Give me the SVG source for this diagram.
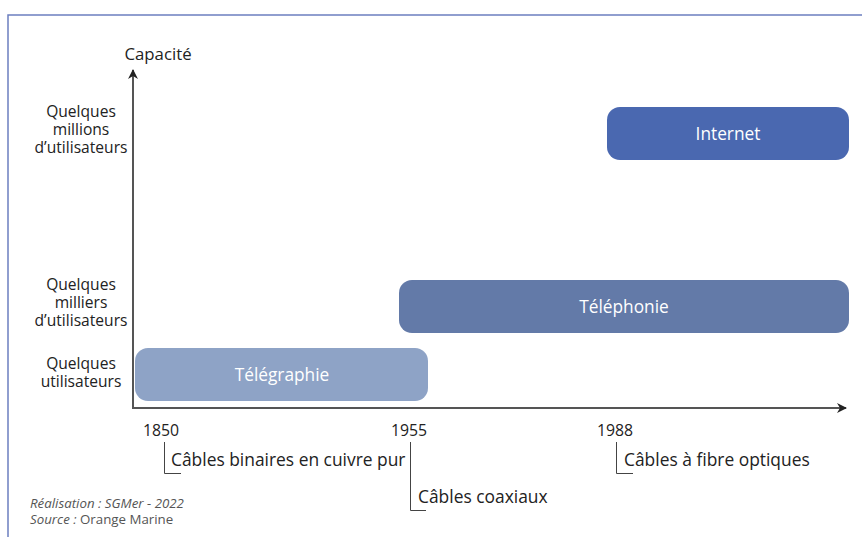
<svg xmlns="http://www.w3.org/2000/svg" width="863" height="537" viewBox="0 0 863 537">
<defs>
<style>
text{font-family:"Open Sans","Liberation Sans",sans-serif;fill:#222}
.lbl{font-size:15.6px;text-anchor:middle}
.yr{font-size:15.8px}
.cb{font-size:17.4px}
.box{font-size:17.3px;fill:#fff;text-anchor:middle}
.ft{font-size:13.3px;fill:#555}
.axis{stroke:#555;stroke-width:2;fill:none}
.br{stroke:#444;stroke-width:1;fill:none}
</style>
<marker id="ah" viewBox="0 0 10 10" refX="9" refY="5" markerWidth="10" markerHeight="10" markerUnits="userSpaceOnUse" orient="auto">
<path d="M0,0 L10,5 L0,10 L3,5 Z" fill="#222"/>
</marker>
</defs>
<rect width="863" height="537" fill="#fff"/>
<path d="M8,537 V15 H862" stroke="#6c7fc0" stroke-width="1.5" fill="none"/>
<g id="connectors">
<path class="axis" d="M133,409 V70" marker-end="url(#ah)"/>
<path class="axis" d="M132,408 H846" marker-end="url(#ah)"/>
<path class="br" d="M164.5,442 V473.5 H181"/>
<path class="br" d="M410.5,442 V510.5 H426"/>
<path class="br" d="M616.5,442 V473.5 H633"/>
</g>
<g id="axis-labels">
<text x="158" y="60" style="font-size:16.8px;text-anchor:middle">Capacité</text>
<text class="lbl" x="81" y="117">Quelques<tspan x="81" dy="18">millions</tspan><tspan x="81" dy="18">d’utilisateurs</tspan></text>
<text class="lbl" x="81" y="290">Quelques<tspan x="81" dy="18">milliers</tspan><tspan x="81" dy="18">d’utilisateurs</tspan></text>
<text class="lbl" x="81" y="369">Quelques<tspan x="81" dy="18">utilisateurs</tspan></text>
</g>
<g id="telegraphie">
<rect x="135" y="348" width="293" height="53" rx="13" fill="#8ea3c6"/>
<text class="box" x="282" y="381">Télégraphie</text>
</g>
<g id="telephonie">
<rect x="399" y="280" width="450" height="53" rx="13" fill="#637aa8"/>
<text class="box" x="624" y="313">Téléphonie</text>
</g>
<g id="internet">
<rect x="607" y="107" width="242" height="53" rx="13" fill="#4a68b0"/>
<text class="box" x="728" y="140">Internet</text>
</g>
<g id="years">
<text class="yr" x="143" y="436">1850</text>
<text class="yr" x="391" y="436">1955</text>
<text class="yr" x="597" y="436">1988</text>
</g>
<g id="cables">
<text class="cb" x="171" y="466">Câbles binaires en cuivre pur</text>
<text class="cb" x="418" y="503">Câbles coaxiaux</text>
<text class="cb" x="624" y="466">Câbles à fibre optiques</text>
</g>
<g id="footer">
<text class="ft" x="30" y="508" font-style="italic">Réalisation : SGMer - 2022</text>
<text class="ft" x="30" y="524"><tspan font-style="italic">Source :</tspan> Orange Marine</text>
</g>
</svg>
